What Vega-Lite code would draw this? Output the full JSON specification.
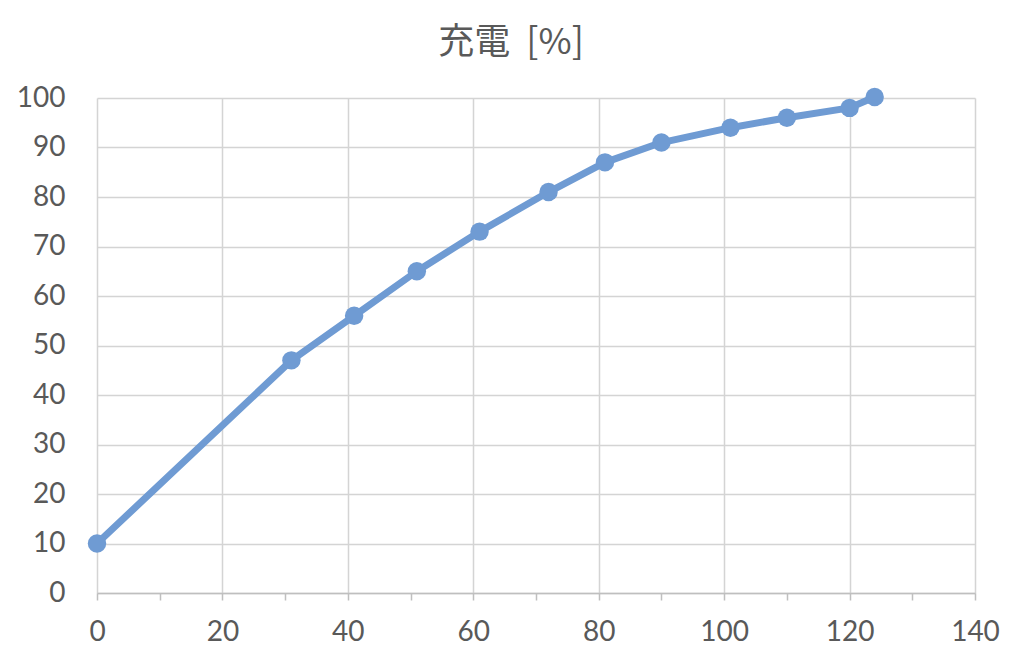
{
  "$schema": "https://vega.github.io/schema/vega-lite/v6.json",
  "autosize": {"type": "none"},
  "width": 878,
  "height": 495,
  "padding": {"left": 97, "top": 98, "right": 49, "bottom": 69},
  "background": "white",
  "title": {
    "text": "充電\u00a0\u00a0[%]",
    "font": "Noto Sans CJK JP",
    "fontSize": 36,
    "fontWeight": "normal",
    "color": "#595959",
    "offset": 22,
    "dx": -25,
    "anchor": "middle"
  },
  "config": {
    "view": {"stroke": null},
    "axis": {
      "labelFont": "Lato",
      "labelFontSize": 28,
      "labelColor": "#595959",
      "gridColor": "#d4d4d4",
      "gridWidth": 1.5,
      "domainColor": "#bfbfbf",
      "tickColor": "#bfbfbf",
      "labelFlush": false,
      "title": null
    }
  },
  "data": {
    "values": [
      {"t": 0, "c": 10},
      {"t": 31, "c": 47},
      {"t": 41, "c": 56},
      {"t": 51, "c": 65},
      {"t": 61, "c": 73},
      {"t": 72, "c": 81},
      {"t": 81, "c": 87},
      {"t": 90, "c": 91},
      {"t": 101, "c": 94},
      {"t": 110, "c": 96},
      {"t": 120, "c": 98},
      {"t": 124, "c": 100.2}
    ]
  },
  "encoding": {
    "x": {
      "field": "t",
      "type": "quantitative",
      "scale": {"domain": [0, 140], "nice": false, "zero": false},
      "axis": {
        "values": [0, 10, 20, 30, 40, 50, 60, 70, 80, 90, 100, 110, 120, 130, 140],
        "labelExpr": "datum.value % 20 == 0 ? datum.label : ''",
        "tickSize": 7,
        "tickWidth": 1.5,
        "domainWidth": 1.5,
        "labelPadding": 18,
        "gridOpacity": {"condition": {"test": "datum.value % 20 != 0", "value": 0}, "value": 1}
      }
    },
    "y": {
      "field": "c",
      "type": "quantitative",
      "scale": {"domain": [0, 100], "nice": false},
      "axis": {
        "values": [0, 10, 20, 30, 40, 50, 60, 70, 80, 90, 100],
        "ticks": false,
        "domain": false,
        "labelPadding": 32
      }
    }
  },
  "layer": [
    {
      "mark": {"type": "line", "color": "#6f9bd3", "strokeWidth": 7, "strokeJoin": "round", "strokeCap": "round"}
    },
    {
      "mark": {"type": "point", "filled": true, "opacity": 1, "color": "#6f9bd3", "size": 340, "shape": "circle"}
    }
  ]
}
